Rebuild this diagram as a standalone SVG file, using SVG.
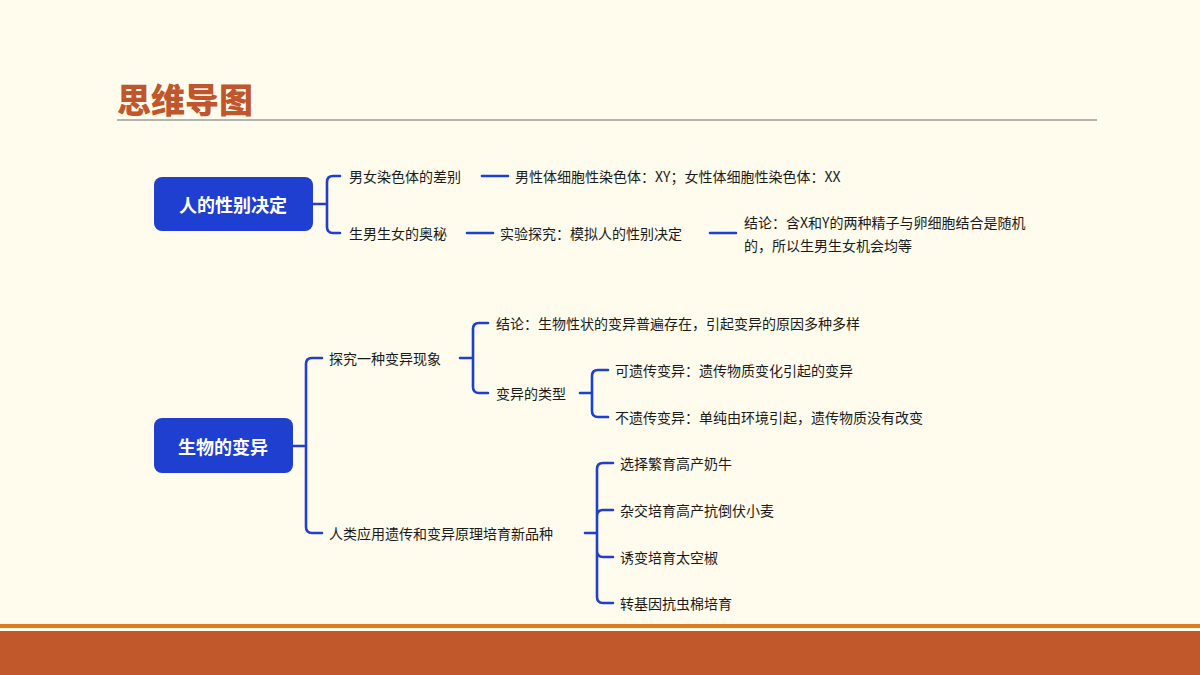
<svg xmlns="http://www.w3.org/2000/svg" width="1200" height="675" viewBox="0 0 1200 675">
<style>
text{font-family:"Noto Sans CJK SC","Noto Sans",sans-serif;font-size:14px;fill:#1a1a1a;dominant-baseline:central}
.root{fill:#1f3fd0}
.rt{fill:#fff;font-size:18px;font-weight:bold;text-anchor:middle}
.c path{fill:none;stroke:#1f3fd0;stroke-width:2.6;stroke-linecap:round}
</style>
<rect width="1200" height="675" fill="#fffcee"/>
<text x="117" y="98" style="font-size:34px;font-weight:900;fill:#c0562b">思维导图</text>
<rect x="117" y="119" width="980" height="2" fill="#b4b4ae"/>
<rect x="0" y="624" width="1200" height="4" fill="#e07a20"/>
<rect x="0" y="631" width="1200" height="44" fill="#c0582c"/>
<g class="c">
<path d="M313 204H327M340 176H333Q327 176 327 182V227Q327 233 333 233H340"/>
<path d="M482 176H508M467 233H493M710 233H736"/>
<path d="M293 446H306M322 358H312Q306 358 306 364V527Q306 533 312 533H322"/>
<path d="M460 358H473M488 323H479Q473 323 473 329V387Q473 393 479 393H488"/>
<path d="M580 393H592M608 370H598Q592 370 592 376V411Q592 417 598 417H608"/>
<path d="M585 533H597M613 463H603Q597 463 597 469V597Q597 603 603 603H613M597 516Q597 510 603 510H613M597 551Q597 557 603 557H613"/>
</g>
<g id="n1"><rect class="root" x="154" y="177" width="159" height="54" rx="8"/><text class="rt" x="233" y="204">人的性别决定</text></g>
<g id="n1a"><text x="349" y="176">男女染色体的差别</text></g>
<g id="n1a1"><text x="515" y="176">男性体细胞性染色体：XY；女性体细胞性染色体：XX</text></g>
<g id="n1b"><text x="349" y="233">生男生女的奥秘</text></g>
<g id="n1b1"><text x="500" y="233">实验探究：模拟人的性别决定</text></g>
<g id="n1b2"><text x="744" y="222">结论：含X和Y的两种精子与卵细胞结合是随机</text><text x="744" y="245">的，所以生男生女机会均等</text></g>
<g id="n2"><rect class="root" x="154" y="418" width="139" height="55" rx="8"/><text class="rt" x="223" y="446">生物的变异</text></g>
<g id="n2a"><text x="329" y="358">探究一种变异现象</text></g>
<g id="n2a1"><text x="496" y="323">结论：生物性状的变异普遍存在，引起变异的原因多种多样</text></g>
<g id="n2a2"><text x="496" y="393">变异的类型</text></g>
<g id="n2a2a"><text x="615" y="370">可遗传变异：遗传物质变化引起的变异</text></g>
<g id="n2a2b"><text x="615" y="417">不遗传变异：单纯由环境引起，遗传物质没有改变</text></g>
<g id="n2b"><text x="329" y="533">人类应用遗传和变异原理培育新品种</text></g>
<g id="n2b1"><text x="620" y="463">选择繁育高产奶牛</text></g>
<g id="n2b2"><text x="620" y="510">杂交培育高产抗倒伏小麦</text></g>
<g id="n2b3"><text x="620" y="557">诱变培育太空椒</text></g>
<g id="n2b4"><text x="620" y="603">转基因抗虫棉培育</text></g>
</svg>
